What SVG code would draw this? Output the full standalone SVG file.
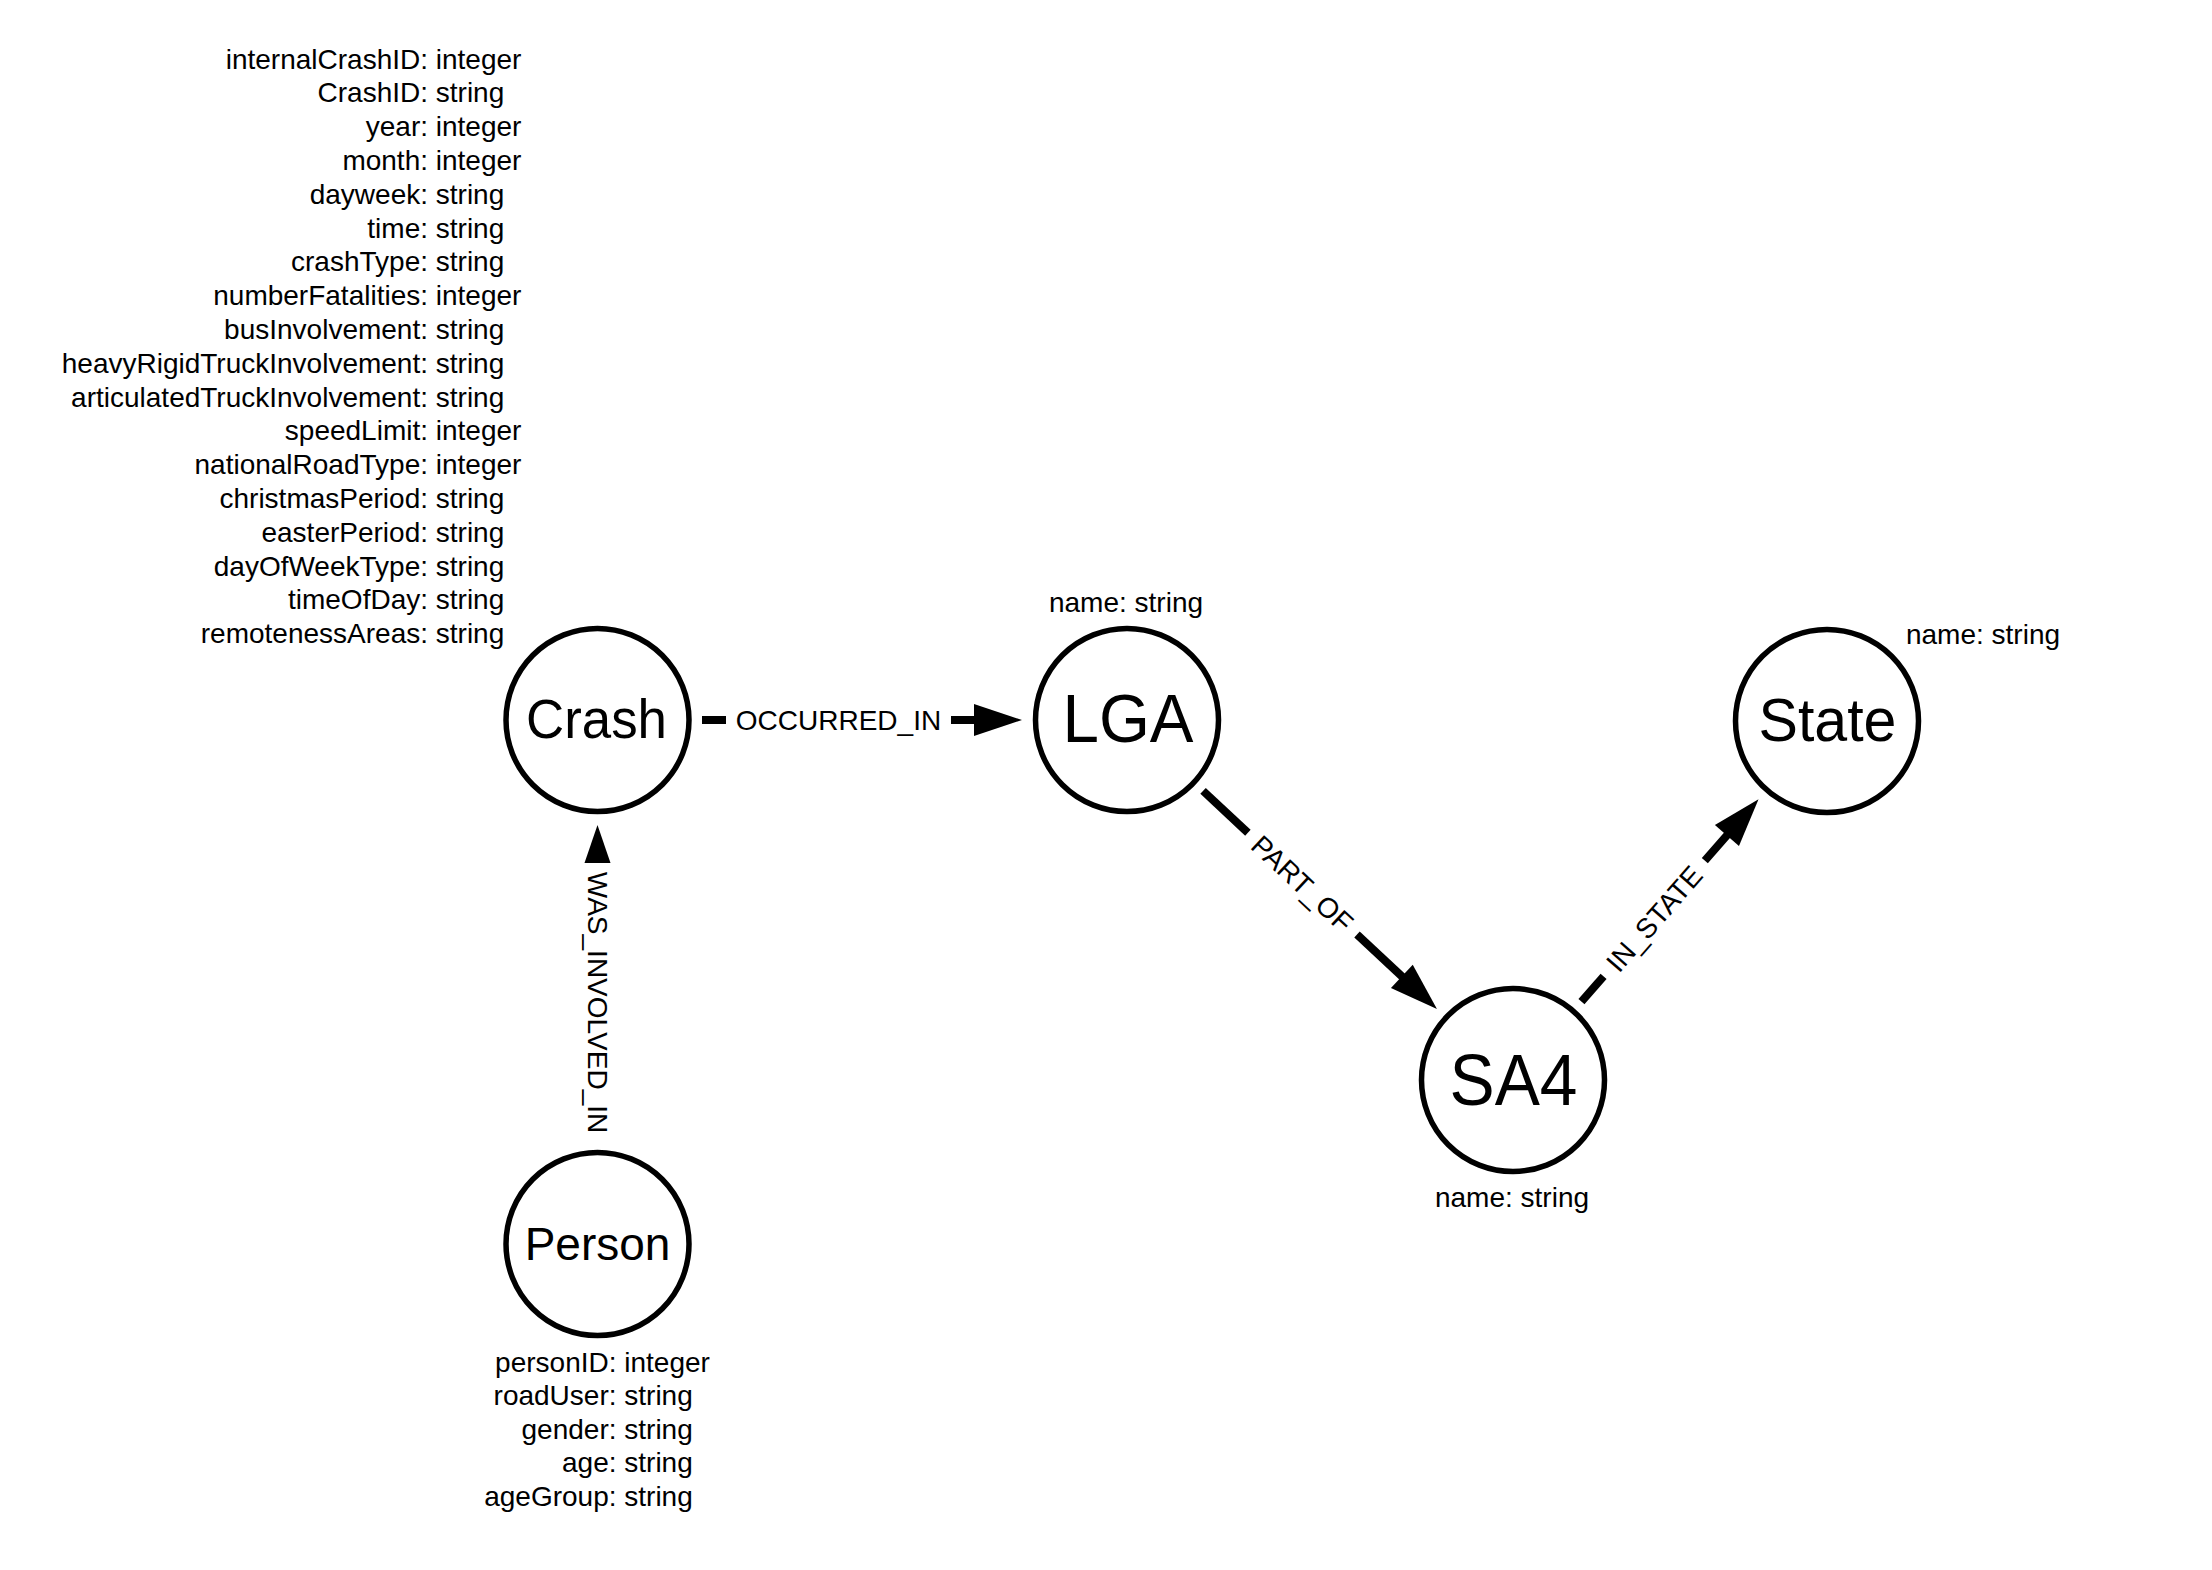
<svg xmlns="http://www.w3.org/2000/svg" width="2212" height="1570" viewBox="0 0 2212 1570">
<style>
.t{font-family:"Liberation Sans",Arial,Helvetica,sans-serif;font-size:28px;fill:#000}
.e{text-anchor:end}
.m{text-anchor:middle}
.node{fill:#fff;stroke:#000;stroke-width:5.5}
.cap{font-family:"Liberation Sans",Arial,Helvetica,sans-serif;fill:#000;text-anchor:middle}
.sh{stroke:#000;stroke-width:8;fill:none}
.ah{fill:#000}
</style>
<rect width="2212" height="1570" fill="#fff"/>
<g id="connectors">
  <g id="e-occurred-in">
    <line class="sh" x1="702" y1="720" x2="726" y2="720"/>
    <line class="sh" x1="951" y1="720" x2="975" y2="720"/>
    <polygon class="ah" points="974,704 1022,720 974,736"/>
    <text class="t m" x="838.5" y="730">OCCURRED_IN</text>
  </g>
  <g id="e-was-involved-in">
    <polygon class="ah" points="584.5,863 597.5,825 610.5,863"/>
    <text class="t m" transform="translate(597.5,1002.5) rotate(90)" x="0" y="10">WAS_INVOLVED_IN</text>
  </g>
  <g id="e-part-of">
    <line class="sh" x1="1203.06" y1="790.93" x2="1247.89" y2="832.74"/>
    <line class="sh" x1="1357.01" y1="934.51" x2="1402.57" y2="977.01"/>
    <polygon class="ah" points="1390.93,988.03 1436.94,1009.07 1412.75,964.63"/>
    <text class="t m" transform="translate(1302.45,883.63) rotate(43)" x="0" y="10">PART_OF</text>
  </g>
  <g id="e-in-state">
    <line class="sh" x1="1581.47" y1="1001.72" x2="1603.58" y2="976.44"/>
    <line class="sh" x1="1704.83" y1="860.68" x2="1727.59" y2="834.66"/>
    <polygon class="ah" points="1738.97,845.94 1758.53,799.28 1714.89,824.88"/>
    <text class="t m" transform="translate(1654.2,918.56) rotate(-48.83)" x="0" y="10">IN_STATE</text>
  </g>
</g>
<g id="node-crash">
  <circle class="node" cx="597.5" cy="720" r="91.5"/>
  <text class="cap" x="596.5" y="738" font-size="56" textLength="141" lengthAdjust="spacingAndGlyphs">Crash</text>
  <g class="t">
    <text y="68.5"><tspan class="e" x="428">internalCrashID:</tspan><tspan x="428"> integer</tspan></text>
    <text y="102.3"><tspan class="e" x="428">CrashID:</tspan><tspan x="428"> string</tspan></text>
    <text y="136.1"><tspan class="e" x="428">year:</tspan><tspan x="428"> integer</tspan></text>
    <text y="169.9"><tspan class="e" x="428">month:</tspan><tspan x="428"> integer</tspan></text>
    <text y="203.7"><tspan class="e" x="428">dayweek:</tspan><tspan x="428"> string</tspan></text>
    <text y="237.5"><tspan class="e" x="428">time:</tspan><tspan x="428"> string</tspan></text>
    <text y="271.3"><tspan class="e" x="428">crashType:</tspan><tspan x="428"> string</tspan></text>
    <text y="305.1"><tspan class="e" x="428">numberFatalities:</tspan><tspan x="428"> integer</tspan></text>
    <text y="338.9"><tspan class="e" x="428">busInvolvement:</tspan><tspan x="428"> string</tspan></text>
    <text y="372.7"><tspan class="e" x="428">heavyRigidTruckInvolvement:</tspan><tspan x="428"> string</tspan></text>
    <text y="406.5"><tspan class="e" x="428">articulatedTruckInvolvement:</tspan><tspan x="428"> string</tspan></text>
    <text y="440.3"><tspan class="e" x="428">speedLimit:</tspan><tspan x="428"> integer</tspan></text>
    <text y="474.1"><tspan class="e" x="428">nationalRoadType:</tspan><tspan x="428"> integer</tspan></text>
    <text y="507.9"><tspan class="e" x="428">christmasPeriod:</tspan><tspan x="428"> string</tspan></text>
    <text y="541.7"><tspan class="e" x="428">easterPeriod:</tspan><tspan x="428"> string</tspan></text>
    <text y="575.5"><tspan class="e" x="428">dayOfWeekType:</tspan><tspan x="428"> string</tspan></text>
    <text y="609.3"><tspan class="e" x="428">timeOfDay:</tspan><tspan x="428"> string</tspan></text>
    <text y="643.1"><tspan class="e" x="428">remotenessAreas:</tspan><tspan x="428"> string</tspan></text>
  </g>
</g>
<g id="node-lga">
  <circle class="node" cx="1127" cy="720" r="91.5"/>
  <text class="cap" x="1128" y="741.5" font-size="68" textLength="131" lengthAdjust="spacingAndGlyphs">LGA</text>
  <text class="t m" x="1126" y="612">name: string</text>
</g>
<g id="node-state">
  <circle class="node" cx="1827" cy="721" r="91.5"/>
  <text class="cap" x="1827.5" y="741" font-size="62" textLength="138" lengthAdjust="spacingAndGlyphs">State</text>
  <text class="t m" x="1983" y="643.5">name: string</text>
</g>
<g id="node-sa4">
  <circle class="node" cx="1513" cy="1080" r="91.5"/>
  <text class="cap" x="1513.5" y="1104.5" font-size="72" textLength="128" lengthAdjust="spacingAndGlyphs">SA4</text>
  <text class="t m" x="1512" y="1207">name: string</text>
</g>
<g id="node-person">
  <circle class="node" cx="597.5" cy="1244" r="91.5"/>
  <text class="cap" x="597.5" y="1260" font-size="46">Person</text>
  <g class="t">
    <text y="1371.5"><tspan class="e" x="616.5">personID:</tspan><tspan x="616.5"> integer</tspan></text>
    <text y="1405.1"><tspan class="e" x="616.5">roadUser:</tspan><tspan x="616.5"> string</tspan></text>
    <text y="1438.7"><tspan class="e" x="616.5">gender:</tspan><tspan x="616.5"> string</tspan></text>
    <text y="1472.3"><tspan class="e" x="616.5">age:</tspan><tspan x="616.5"> string</tspan></text>
    <text y="1505.9"><tspan class="e" x="616.5">ageGroup:</tspan><tspan x="616.5"> string</tspan></text>
  </g>
</g>
</svg>
